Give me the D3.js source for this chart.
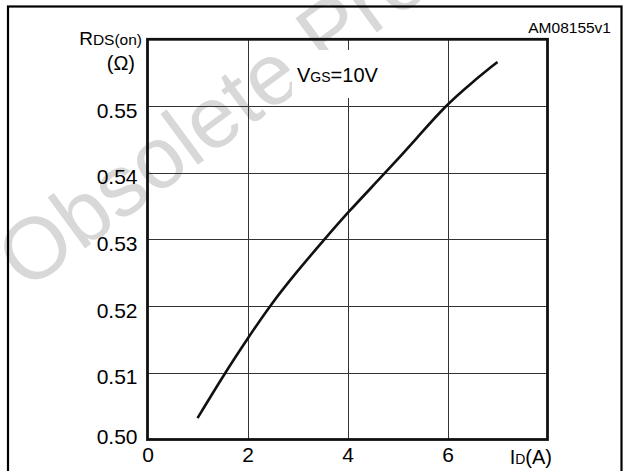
<!DOCTYPE html>
<html><head><meta charset="utf-8">
<script src="https://cdn.jsdelivr.net/npm/d3@7/dist/d3.min.js"></script>
<style>
html,body{margin:0;padding:0;background:#fff;}
svg{display:block;font-family:"Liberation Sans",Arial,Helvetica,sans-serif;}
</style></head>
<body>
<svg id="chart" width="626" height="471"></svg>
<script>
// ---- data ----
const currentA = [1.0, 1.55, 2.0, 2.44, 3.0, 3.54, 4.0, 4.76, 5.4, 5.95, 6.5, 7.0];
const rdsOn    = [0.5032, 0.5100, 0.5151, 0.5200, 0.5253, 0.5300, 0.5340, 0.5400, 0.5453, 0.5500, 0.5536, 0.5566];
const xTicks = [0, 2, 4, 6];
const yTicks = [0.50, 0.51, 0.52, 0.53, 0.54, 0.55];
const xGrid = [2, 4, 6];
const yGrid = [0.51, 0.52, 0.53, 0.54, 0.55];
const figId = "AM08155v1";
const watermark = "Obsolete Product(s)";

const svg = d3.select("#chart");
const L = 147.5, R = 547.5, T = 39.3, B = 439.5;
const x = d3.scaleLinear().domain([0, 8]).range([L, R]);
const y = d3.scaleLinear().domain([0.50, 0.56]).range([B, T]);

// watermark
svg.append("text")
  .attr("transform", "translate(26,292) rotate(-36.5)")
  .attr("font-size", 87)
  .attr("fill", "#d8d8d8")
  .text(watermark);

// outer border
svg.append("rect").attr("x", 8).attr("y", 6.5).attr("width", 613.5).attr("height", 480)
  .attr("fill", "none").attr("stroke", "#000").attr("stroke-width", 2.2);

svg.append("text").attr("x", 611).attr("y", 33).attr("text-anchor", "end")
  .attr("font-size", 15.5).text(figId);

// grid
const g = svg.append("g");
g.selectAll("line.gx").data(xGrid).join("line")
  .attr("x1", d => Math.round(x(d)) + 0.5).attr("x2", d => Math.round(x(d)) + 0.5)
  .attr("y1", T).attr("y2", B).attr("stroke", "#333").attr("stroke-width", 1);
g.selectAll("line.gy").data(yGrid).join("line")
  .attr("y1", d => Math.round(y(d)) + 0.5).attr("y2", d => Math.round(y(d)) + 0.5)
  .attr("x1", L).attr("x2", R).attr("stroke", "#333").attr("stroke-width", 1);

// VGS label with white backing
svg.append("rect").attr("x", 292).attr("y", 50).attr("width", 93).attr("height", 48).attr("fill", "#fff");
const vgs = svg.append("text").attr("x", 297).attr("y", 82).attr("font-size", 20);
vgs.append("tspan").text("V");
vgs.append("tspan").attr("font-size", 14).text("GS");
vgs.append("tspan").text("=10V");

// curve
const pts = currentA.map((c, i) => [c, rdsOn[i]]);
svg.append("path").datum(pts)
  .attr("fill", "none").attr("stroke", "#111").attr("stroke-width", 2.6)
  .attr("d", d3.line().x(d => x(d[0])).y(d => y(d[1])).curve(d3.curveBasis));

// frame
svg.append("rect").attr("x", L).attr("y", T).attr("width", R - L).attr("height", B - T)
  .attr("fill", "none").attr("stroke", "#111").attr("stroke-width", 2.8);

// axes labels
const yAxis = d3.axisLeft(y).tickValues(yTicks).tickSize(0).tickPadding(10).tickFormat(d3.format(".2f"));
const ya = svg.append("g").attr("transform", `translate(${L},0)`).call(yAxis);
ya.select(".domain").remove();
ya.selectAll("text").attr("font-size", 21).attr("font-family", null).attr("fill", "#000")
  .attr("dy", (d, i) => i === 0 ? "0.2em" : "0.53em");

const xAxis = d3.axisBottom(x).tickValues(xTicks).tickSize(0).tickPadding(8).tickFormat(d3.format("d"));
const xa = svg.append("g").attr("transform", `translate(0,${B})`).call(xAxis);
xa.select(".domain").remove();
xa.selectAll("text").attr("font-size", 21).attr("font-family", null).attr("fill", "#000");

// axis titles
const yt = svg.append("text").attr("x", 142).attr("y", 45).attr("text-anchor", "end").attr("font-size", 19);
yt.append("tspan").text("R");
yt.append("tspan").attr("font-size", 15.5).text("DS(on)");
svg.append("text").attr("x", 135).attr("y", 70).attr("text-anchor", "end").attr("font-size", 20).text("(Ω)");

const xt = svg.append("text").attr("x", 552).attr("y", 464).attr("text-anchor", "end").attr("font-size", 20);
xt.append("tspan").text("I");
xt.append("tspan").attr("font-size", 14).text("D");
xt.append("tspan").text("(A)");
</script>
</body></html>
